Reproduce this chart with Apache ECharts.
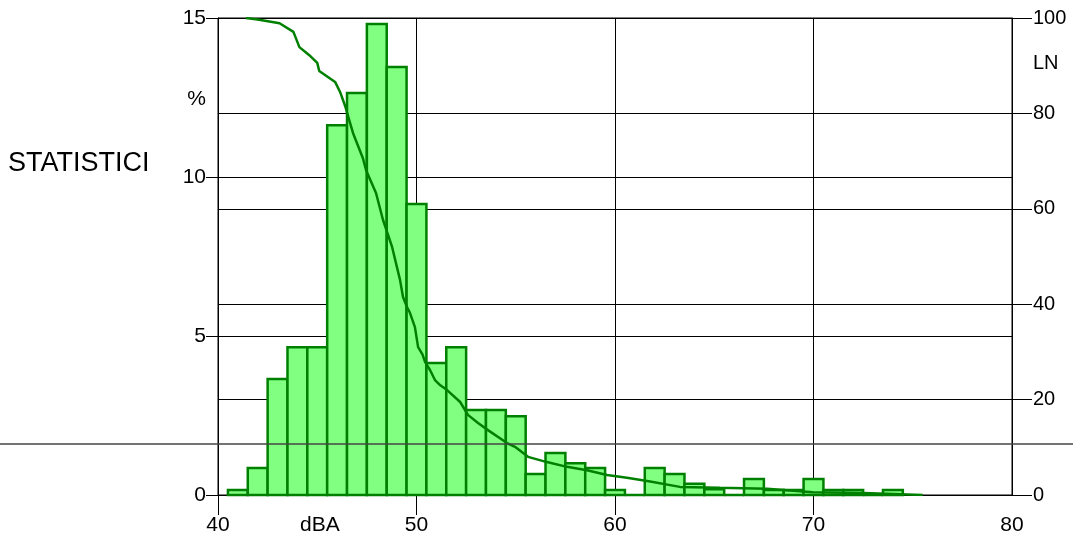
<!DOCTYPE html>
<html>
<head>
<meta charset="utf-8">
<script src="https://cdn.jsdelivr.net/npm/echarts@6/dist/echarts.min.js"></script>
<style>
html,body{margin:0;padding:0;background:#fff;}
#chart{width:1073px;height:539px;}
</style>
</head>
<body>
<div id="chart"></div>
<script>
// Histogram: level class centre (dBA) and percentage of time
const levels = [41,42,43,44,45,46,47,48,49,50,51,52,53,54,55,56,57,58,59,60,61,62,63,64,65,66,67,68,69,70,71,72,73,74];
const percent = [0.16,0.85,3.65,4.65,4.65,11.63,12.64,14.81,13.46,9.15,4.15,4.65,2.67,2.67,2.48,0.66,1.32,1.0,0.85,0.16,0,0.85,0.66,0.35,0.18,0,0.5,0.16,0.16,0.5,0.16,0.16,0,0.16];

// Cumulative exceedance curve LN
const lnLevels = [41.4,42.0,43.1,43.8,44.1,44.6,45.0,45.1,45.9,46.15,46.4,46.8,47.3,47.46,47.96,48.31,48.77,49.17,49.32,49.52,49.67,49.92,50.08,50.3,50.43,50.68,50.93,51.2,51.54,52.2,52.59,53.1,53.6,54.56,54.96,55.62,56.57,57.58,58.59,59.6,60.6,61.7,63.27,65.29,67.66,69.97,72.49,75.5];
const lnValues = [100,99.7,98.9,97.1,93.9,92.2,90.6,88.9,86.6,84.5,81.6,75.9,70.6,68.1,63.3,57.7,52.0,45.1,41.5,39.4,38.2,35.2,31.0,29.5,27.9,26.2,24.1,23.0,22.0,19.5,16.8,15.1,13.6,10.9,10.1,8.0,6.9,5.9,5.2,4.2,3.6,2.9,1.7,1.5,1.3,0.6,0.4,0];

const xTicks = [40,50,60,70,80];
const leftTicks = [0,5,10,15];
const rightTicks = [0,20,40,60,80,100];

const FONT = "'Liberation Sans', Arial, sans-serif";
const chart = echarts.init(document.getElementById('chart'), null, {renderer:'canvas'});

const histData = levels.map((l,i)=>[l, percent[i]]);
const lnData = lnLevels.map((l,i)=>[l, lnValues[i]]);

chart.setOption({
  animation:false,
  backgroundColor:'#fff',
  grid:{left:218, right:61, top:18, bottom:44, show:true, borderColor:'#000', borderWidth:1, containLabel:false},
  xAxis:{
    type:'value', min:xTicks[0], max:xTicks[xTicks.length-1], interval:10,
    axisLine:{show:true, lineStyle:{color:'#000', width:1}},
    axisTick:{show:true, length:20, lineStyle:{color:'#000'}, customValues:xTicks.slice(0,4)},
    axisLabel:{color:'#000', fontSize:21, fontFamily:FONT, margin:20},
    splitLine:{show:true, lineStyle:{color:'#000', width:1}}
  },
  yAxis:[
    {type:'value', position:'left', min:leftTicks[0], max:leftTicks[leftTicks.length-1], interval:5,
     axisLine:{show:true, lineStyle:{color:'#000'}},
     axisTick:{show:true, length:12, lineStyle:{color:'#000'}},
     axisLabel:{color:'#000', fontSize:21, fontFamily:FONT, margin:12},
     splitLine:{show:true, lineStyle:{color:'#000', width:1}}},
    {type:'value', position:'right', min:rightTicks[0], max:rightTicks[rightTicks.length-1], interval:20,
     axisLine:{show:true, lineStyle:{color:'#000'}},
     axisTick:{show:true, length:20, lineStyle:{color:'#000'}},
     axisLabel:{color:'#000', fontSize:20, fontFamily:FONT, margin:21},
     splitLine:{show:true, lineStyle:{color:'#000', width:1}}}
  ],
  series:[
    {type:'custom', xAxisIndex:0, yAxisIndex:0, data:histData, z:3,
     renderItem:function(params, api){
       const x = api.value(0), v = api.value(1);
       const p1 = api.coord([x-0.5, v]);
       const p2 = api.coord([x+0.5, 0]);
       return {type:'rect', shape:{x:p1[0], y:p1[1], width:p2[0]-p1[0], height:p2[1]-p1[1]},
               style:{fill:'#80ff80', stroke:'#008000', lineWidth:2.5}};
     }},
    {type:'line', xAxisIndex:0, yAxisIndex:1, data:lnData, showSymbol:false, z:4,
     lineStyle:{color:'#008000', width:2.5}}
  ],
  graphic:[
    {type:'line', shape:{x1:0, y1:444, x2:1073, y2:444}, style:{stroke:'#444', lineWidth:1.5}, z:10},
    {type:'text', left:8, top:150, style:{text:'STATISTICI', font:'27px '+FONT, fill:'#000'}},
    {type:'text', right:1073-206, top:89, style:{text:'%', font:'21px '+FONT, fill:'#000'}},
    {type:'text', left:1033, top:53, style:{text:'LN', font:'20px '+FONT, fill:'#000'}},
    {type:'text', left:300, top:515, style:{text:'dBA', font:'21px '+FONT, fill:'#000'}}
  ]
});
</script>
</body>
</html>
